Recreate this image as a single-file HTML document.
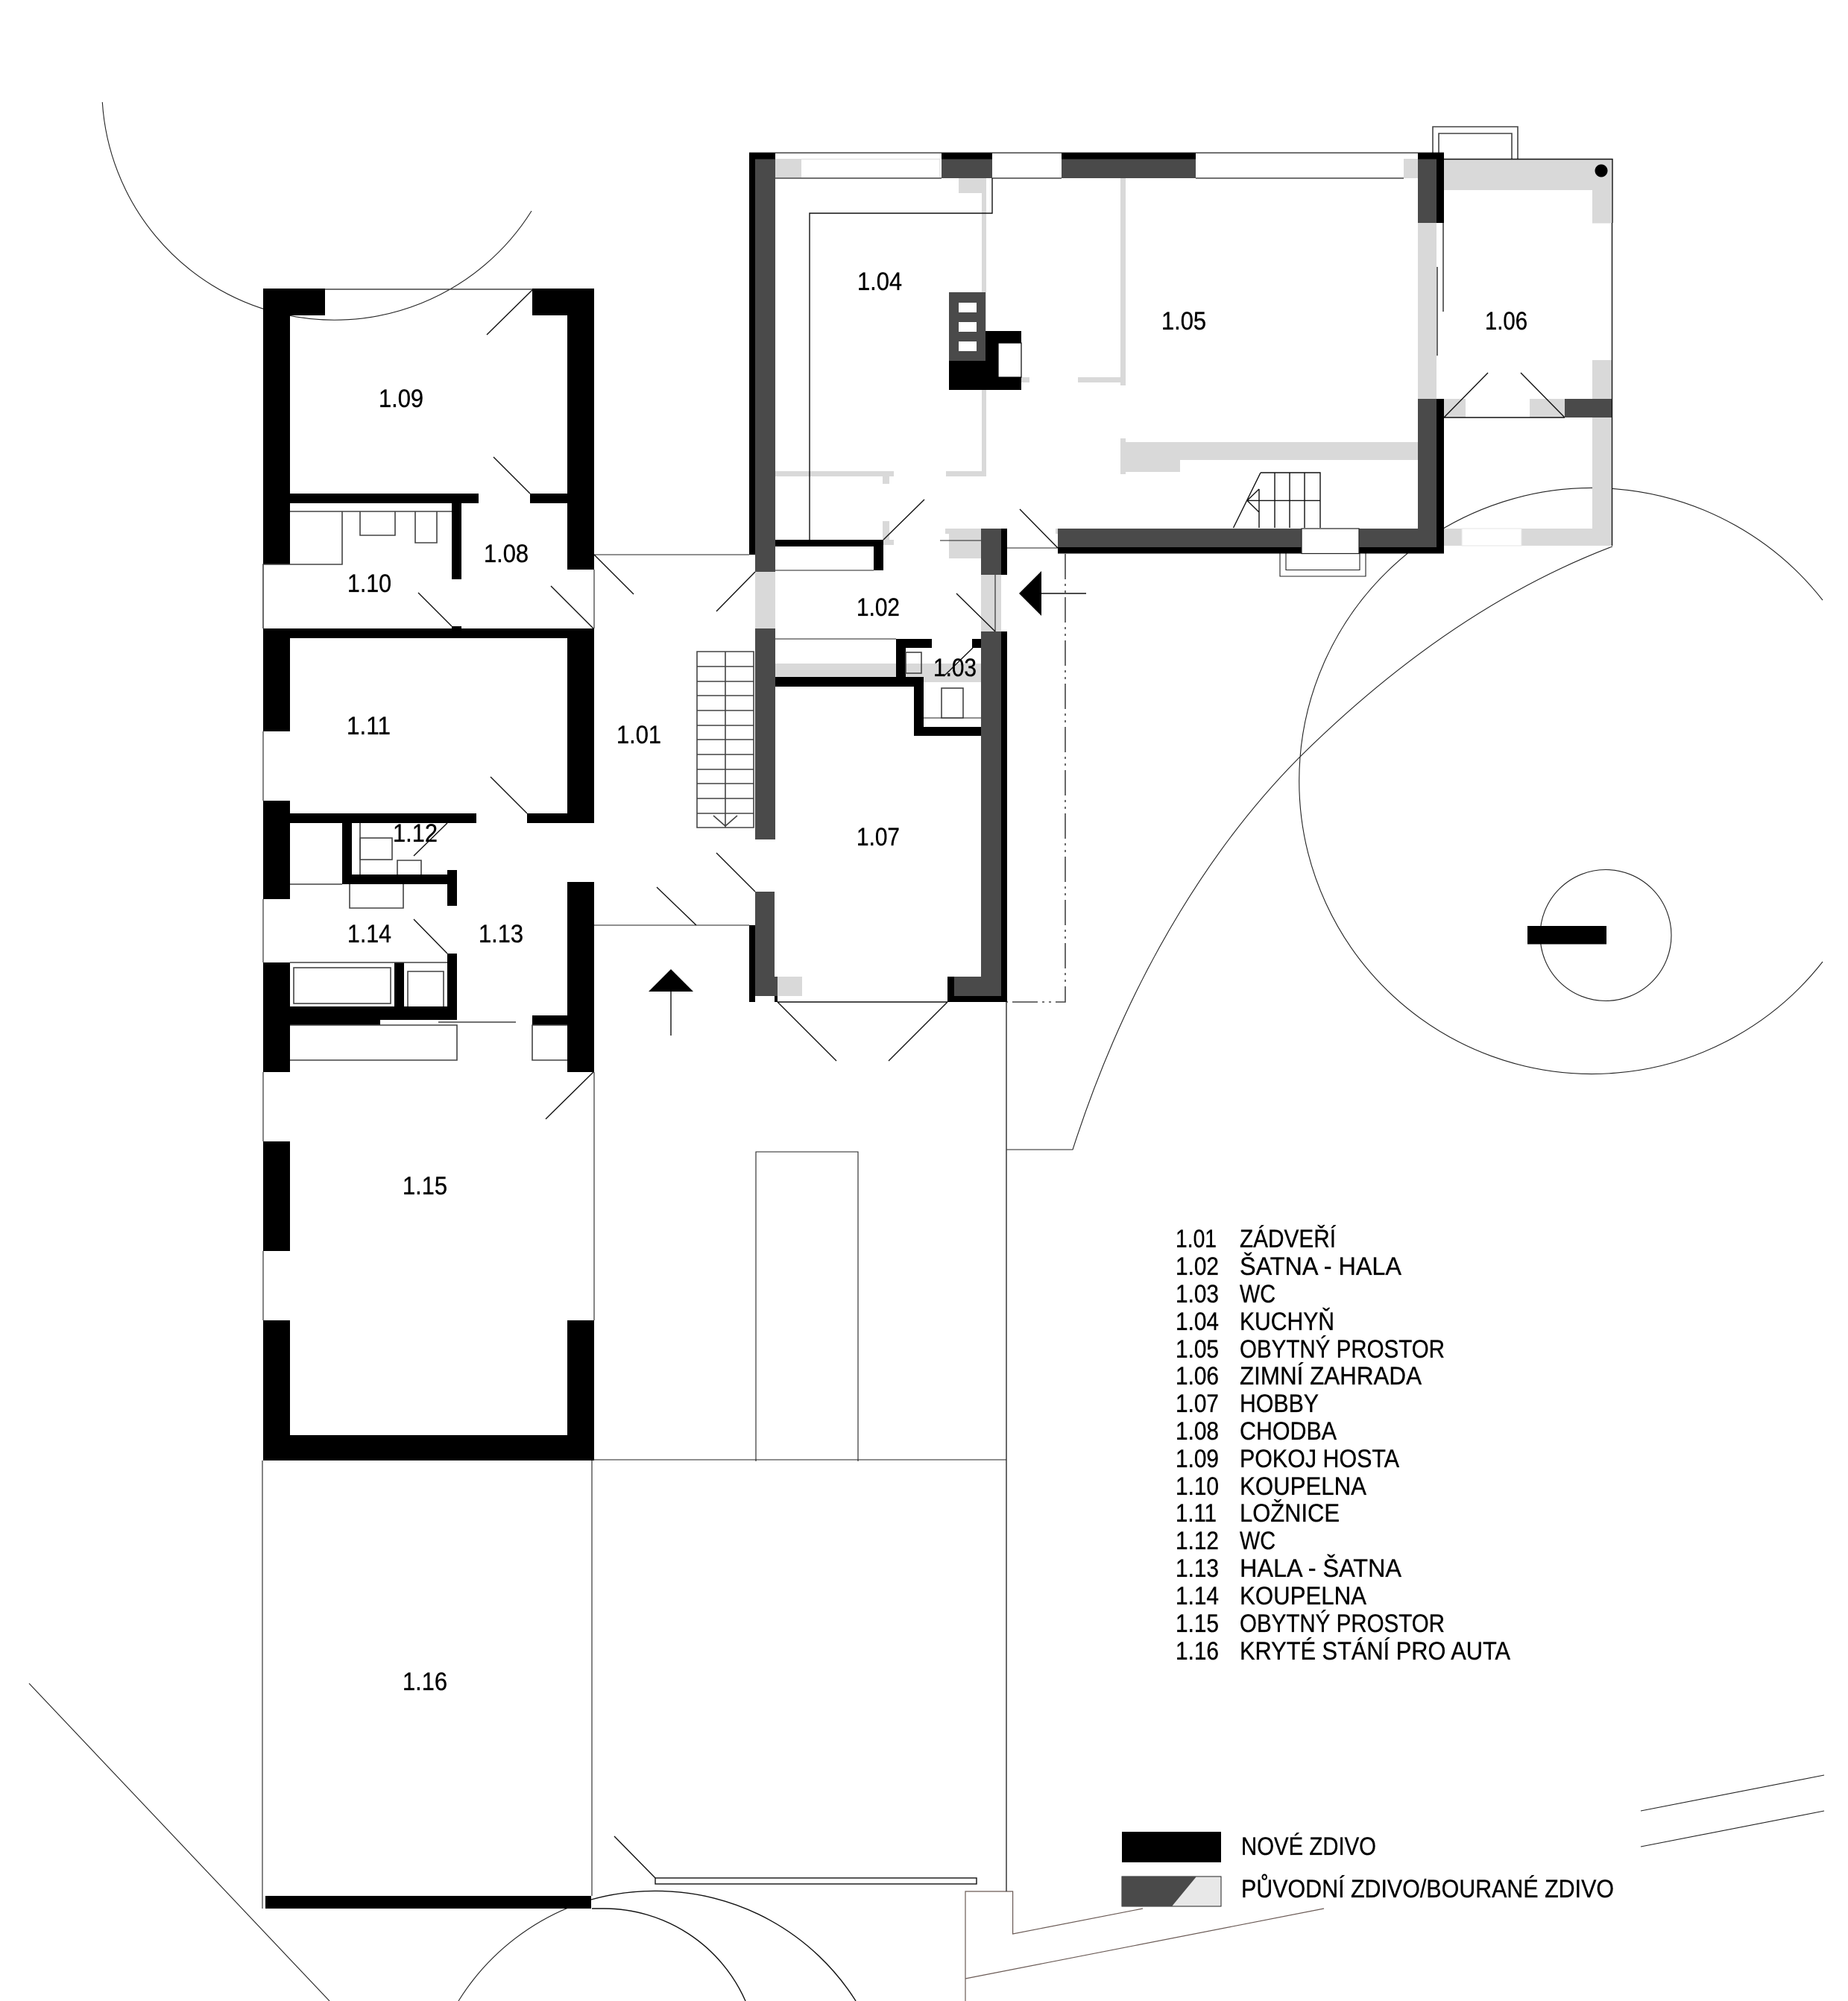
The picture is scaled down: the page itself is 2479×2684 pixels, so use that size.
<!DOCTYPE html>
<html><head><meta charset="utf-8"><title>Půdorys 1.NP</title>
<style>
html,body{margin:0;padding:0;background:#fff}
svg{display:block}
text{font-family:"Liberation Sans","Noto Sans CJK SC",sans-serif;font-size:34px;fill:#000;stroke:#000;stroke-width:.35}
.k{fill:#000}.d{fill:#4a4a4a}.l{fill:#d9d9d9}.w{fill:#fff}
.s{fill:none;stroke:#111;stroke-width:1.4}
.t{fill:none;stroke:#222;stroke-width:1.1}
.g{fill:none;stroke:#444;stroke-width:1.6}
.b{fill:none;stroke:#6a5a55;stroke-width:1.2}
</style></head><body>
<svg xmlns="http://www.w3.org/2000/svg" width="2479" height="2684" viewBox="0 0 2479 2684">
<rect width="2479" height="2684" fill="#fff"/>

<!-- site curves -->
<path class="t" d="M137.3 137A312 312 0 0 0 713 283"/>
<path class="t" d="M2445 805A393 393 0 1 0 2445 1290"/>
<circle class="t" cx="2154" cy="1254.5" r="88"/>
<rect class="k" x="2049" y="1242" width="106" height="24.5"/>
<path class="t" d="M2163 733C2000 795 1860 900 1742 1017C1640 1120 1520 1290 1439 1542H1350"/>
<path class="t" d="M39 2258L442 2684"/>
<path class="t" d="M2201 2429L2447 2381M2201 2477L2447 2429"/>
<path class="s" d="M793 2548A316.6 316.6 0 0 1 880 2536.4A316.6 316.6 0 0 1 1148 2684"/>
<path class="t" d="M793 2548A316.6 316.6 0 0 0 615 2684"/>
<path class="s" d="M794 2560H810A207.6 207.6 0 0 1 1000 2684"/>
<path class="b" d="M1295 2684V2537H1358.6V2594L1533 2560M1295 2654L1776 2560"/>

<!-- long site / building lines -->
<path class="g" d="M1350 1344V2537"/>
<path class="t" d="M797 744H1005M797 1241H1005M794 1959V2543M352 1959V2560M794 1958H1350"/>
<path class="t" d="M1014 1960V1545H1151V1960"/>
<path class="g" stroke-dasharray="34 6 3 6 3 6" d="M1429 743V1344H1351"/>
<rect x="879" y="2519" width="431" height="8" class="s"/>
<path class="s" d="M824 2463L879 2519"/>

<!-- upper house lights -->
<rect class="l" x="1040" y="213" width="35" height="25"/>
<path fill="none" stroke="#e4e4e4" stroke-width="1.5" d="M1075 213.5H1261V238"/>
<rect class="l" x="1883" y="213" width="19" height="26"/>
<rect class="l" x="1286" y="239" width="37" height="20"/>
<rect class="l" x="1317" y="258" width="6" height="381"/>
<rect class="l" x="1269" y="632" width="54" height="7"/>
<rect class="l" x="1040" y="632" width="159" height="7"/>
<rect class="l" x="1184" y="639" width="9" height="10"/>
<rect class="l" x="1184" y="699" width="9" height="32"/>
<rect class="l" x="1184" y="724" width="15" height="7"/>
<rect class="l" x="1503" y="239" width="7" height="278"/>
<rect class="l" x="1446" y="506" width="64" height="7"/>
<rect class="l" x="1370" y="506" width="11" height="7"/>
<rect class="l" x="1503" y="593" width="399" height="24"/>
<rect class="l" x="1503" y="593" width="80" height="40"/>
<rect class="l" x="1503" y="588" width="7" height="48"/>
<rect class="l" x="1268" y="709" width="48" height="7"/>
<rect class="l" x="1273" y="716" width="43" height="33"/>
<rect class="l" x="1416" y="709" width="3" height="7"/>
<rect class="l" x="1013" y="767" width="27" height="76"/>
<rect class="l" x="1316" y="771" width="27" height="76"/>
<rect class="l" x="1902" y="299" width="25" height="236"/>
<rect class="l" x="1937" y="213.5" width="226" height="41.5"/>
<rect class="l" x="2136" y="213.5" width="26" height="86"/>
<rect class="l" x="2136" y="483" width="26" height="52"/>
<rect class="l" x="2136" y="560" width="26" height="172"/>
<rect class="l" x="1937" y="709" width="225" height="23"/>
<rect x="1961" y="709" width="80" height="23" fill="#fff" stroke="#e6e6e6" stroke-width="1"/>
<rect class="l" x="1937" y="535" width="162" height="25"/>
<rect x="1966" y="535" width="86" height="25" class="w"/>
<rect class="l" x="1040" y="890" width="162" height="18"/>
<rect class="l" x="1215" y="890" width="101" height="18"/>
<rect class="l" x="1239" y="908" width="77" height="7"/>
<rect class="l" x="1043" y="1310" width="33" height="26"/>

<!-- upper house black -->
<rect class="k" x="1005" y="204.5" width="35" height="9"/>
<rect class="k" x="1005" y="204.5" width="8" height="539.5"/>
<rect class="k" x="1263" y="204.5" width="68" height="9"/>
<rect class="k" x="1424" y="204.5" width="180" height="9"/>
<rect class="k" x="1902" y="204.5" width="35" height="9"/>
<rect class="k" x="1927" y="204.5" width="10" height="94.5"/>
<rect class="k" x="1927" y="535" width="10" height="207.5"/>
<rect class="k" x="1419" y="734" width="518" height="8.5"/>
<rect class="k" x="1343" y="709" width="8" height="62"/>
<rect class="k" x="1343" y="847" width="8" height="497"/>
<rect class="k" x="1271" y="1336" width="80" height="8"/>
<rect class="k" x="1271" y="1310" width="9" height="34"/>
<rect class="k" x="1005" y="1241" width="8" height="103"/>
<rect class="k" x="1039" y="1336" width="4" height="8"/>
<rect class="k" x="1040" y="724" width="145" height="9"/>
<rect class="k" x="1172" y="724" width="13" height="41"/>
<rect class="k" x="1202" y="857" width="13" height="51"/>
<rect class="k" x="1202" y="857" width="48" height="12"/>
<rect class="k" x="1304" y="857" width="12" height="12"/>
<rect class="k" x="1040" y="908" width="199" height="13"/>
<rect class="k" x="1226" y="908" width="13" height="79"/>
<rect class="k" x="1226" y="975" width="90" height="12"/>

<!-- upper house dark -->
<rect class="d" x="1013" y="213.5" width="27" height="553.5"/>
<rect class="d" x="1013" y="843" width="27" height="283"/>
<rect class="d" x="1013" y="1196" width="26" height="140"/>
<rect class="d" x="1039" y="1310" width="4" height="26"/>
<rect class="d" x="1263" y="213.5" width="68" height="25.5"/>
<rect class="d" x="1424" y="213.5" width="180" height="25.5"/>
<rect class="d" x="1902" y="213.5" width="25" height="85.5"/>
<rect class="d" x="1902" y="535" width="25" height="199"/>
<rect class="d" x="1419" y="709" width="508" height="25"/>
<rect class="d" x="2099" y="535" width="63" height="25"/>
<rect class="d" x="1316" y="709" width="27" height="62"/>
<rect class="d" x="1316" y="847" width="27" height="489"/>
<rect class="d" x="1280" y="1310" width="63" height="26"/>

<!-- chimney -->
<rect class="k" x="1273" y="484" width="49" height="39"/>
<rect class="k" x="1322" y="444" width="48" height="79"/>
<rect x="1339" y="460" width="31" height="46" fill="#fff" stroke="#000" stroke-width="1.2"/>
<rect class="d" x="1273" y="392" width="49" height="92"/>
<rect class="w" x="1286" y="406" width="24" height="13"/>
<rect class="w" x="1286" y="432" width="24" height="13"/>
<rect class="w" x="1286" y="458" width="24" height="13"/>

<!-- upper house thin -->
<path class="g" d="M1040 205H1263M1040 239H1263M1331 205H1424M1331 239H1424M1604 205H1902M1604 239H1883"/>
<path class="s" d="M1331 239V286H1086V724"/>
<path class="t" d="M1040 765H1172M1261 725H1316M1351 735H1419M1335 771V847"/>
<path class="t" d="M1040 857H1202"/>
<rect x="1215" y="875" width="21" height="28" class="g"/>
<rect x="1263" y="923" width="29" height="40" class="g"/>
<path class="t" d="M1239 963H1316"/>
<path class="s" d="M1185 724L1240 670M1419 735L1368 683M1335 847L1283 796M1305 869L1266 907M1013 767L961 820M1013 1196L961 1144"/>
<path class="s" d="M1043 1344H1271M1043 1344L1122 1423M1271 1344L1192 1423"/>
<rect x="1746" y="709" width="77" height="33.5" fill="#fff" stroke="#222" stroke-width="1.2"/>
<path class="t" d="M1717 742.5V773H1832V742.5M1725 742.5V764.5H1824V742.5"/>
<path class="g" d="M1922 204.5V170H2036V213.5M1930 204.5V179H2028V213.5"/>
<path class="s" d="M1937 213.5H2163V299M2162.5 299V732"/>
<path class="g" d="M1928 358V477M1936 299V418"/>
<path class="s" d="M1937 560H2099M1937 560L1996 500M2099 560L2040 500"/>
<ellipse class="k" cx="2148" cy="229" rx="8.5" ry="8.5"/>
<path class="s" d="M1691 634H1771V708M1710 634V708M1730 634V708M1750 634V708M1689 656V708M1673 671.4H1771M1691 634L1654.5 708M1673 671.4L1689 656M1673 671.4L1689 687"/>

<!-- stairs 1.01 -->
<path class="g" d="M935 874H1011V1110H935ZM973 874V1110M935 894H1011M935 914H1011M935 933H1011M935 953H1011M935 973H1011M935 992H1011M935 1012H1011M935 1032H1011M935 1051H1011M935 1071H1011M935 1091H1011M957 1094L973 1108L989 1094"/>

<!-- entrance arrows -->
<path class="k" d="M1367 796L1397 766V826Z"/>
<path class="s" d="M1397 796H1457"/>
<path class="k" d="M900 1300L870 1330H930Z"/>
<path class="s" d="M900 1330V1389"/>
<path class="s" d="M934 1241L881 1190M797 744L850 797"/>

<!-- left wing black -->
<rect class="k" x="353" y="387" width="83" height="36"/>
<rect class="k" x="353" y="387" width="36" height="370"/>
<rect class="k" x="714" y="387" width="83" height="36"/>
<rect class="k" x="761" y="387" width="36" height="377"/>
<rect class="k" x="389" y="662" width="253" height="13"/>
<rect class="k" x="711" y="662" width="50" height="13"/>
<rect class="k" x="606" y="675" width="13" height="102"/>
<rect class="k" x="353" y="843" width="444" height="13"/>
<rect class="k" x="606" y="840" width="13" height="3"/>
<rect class="k" x="353" y="856" width="36" height="125"/>
<rect class="k" x="761" y="856" width="36" height="248"/>
<rect class="k" x="707" y="1091" width="54" height="13"/>
<rect class="k" x="353" y="1074" width="36" height="132"/>
<rect class="k" x="389" y="1091" width="250" height="13"/>
<rect class="k" x="459" y="1104" width="13" height="82"/>
<rect class="k" x="459" y="1173" width="141" height="13"/>
<rect class="k" x="600" y="1167" width="13" height="48"/>
<rect class="k" x="353" y="1291" width="36" height="147"/>
<rect class="k" x="389" y="1350" width="224" height="18"/>
<rect class="k" x="389" y="1368" width="121" height="7"/>
<rect class="k" x="600" y="1279" width="13" height="89"/>
<rect class="k" x="529" y="1291" width="13" height="59"/>
<rect class="k" x="761" y="1183" width="36" height="255"/>
<rect class="k" x="714" y="1362" width="47" height="13"/>
<rect class="k" x="353" y="1531" width="36" height="147"/>
<rect class="k" x="353" y="1771" width="36" height="188"/>
<rect class="k" x="761" y="1771" width="36" height="188"/>
<rect class="k" x="353" y="1925" width="444" height="34"/>
<rect class="k" x="356" y="2543" width="437" height="17"/>

<!-- left wing thin -->
<path class="g" d="M436 388H714"/>
<path class="s" d="M714 389L653 449M711 662L662 613M606 840L561 795M796 843L739 786M707 1091L658 1042M600 1104L555 1148M600 1279L555 1233M796 1438L732 1501"/>
<path class="g" d="M389 686H606M459 686V757H353V843M483 686V718H530V686M557 686V728H586V686"/>
<path class="t" d="M797 764V843M353 981V1074M353 1206V1291M353 1438V1531M353 1678V1771M797 1438V1771"/>
<path class="g" d="M389 1186H459M483 1104V1173"/>
<rect x="483" y="1124" width="43" height="29" class="g"/>
<path class="g" d="M533 1173V1154H565V1173M469 1186V1218H541V1186M389 1291H600"/>
<rect x="394" y="1298" width="130" height="48" class="g"/>
<path class="g" d="M547 1350V1303H595V1350"/>
<path class="g" d="M588 1371H692M389 1375H613V1422H389M761 1375H714V1422H761"/>
<rect x="510" y="1369" width="78" height="2" class="w"/>

<!-- room labels -->
<text x="827" y="997" textLength="60" lengthAdjust="spacingAndGlyphs">1.01</text>
<text x="1149" y="826" textLength="58" lengthAdjust="spacingAndGlyphs">1.02</text>
<text x="1252" y="907" textLength="58" lengthAdjust="spacingAndGlyphs">1.03</text>
<text x="1150" y="389" textLength="60" lengthAdjust="spacingAndGlyphs">1.04</text>
<text x="1558" y="442" textLength="60" lengthAdjust="spacingAndGlyphs">1.05</text>
<text x="1992" y="442" textLength="57" lengthAdjust="spacingAndGlyphs">1.06</text>
<text x="1149" y="1134" textLength="58" lengthAdjust="spacingAndGlyphs">1.07</text>
<text x="649" y="754" textLength="60" lengthAdjust="spacingAndGlyphs">1.08</text>
<text x="508" y="546" textLength="60" lengthAdjust="spacingAndGlyphs">1.09</text>
<text x="466" y="794" textLength="59" lengthAdjust="spacingAndGlyphs">1.10</text>
<text x="465" y="985" textLength="59" lengthAdjust="spacingAndGlyphs">1.11</text>
<text x="527" y="1129" textLength="60" lengthAdjust="spacingAndGlyphs">1.12</text>
<text x="642" y="1264" textLength="60" lengthAdjust="spacingAndGlyphs">1.13</text>
<text x="466" y="1264" textLength="59" lengthAdjust="spacingAndGlyphs">1.14</text>
<text x="540" y="1602" textLength="60" lengthAdjust="spacingAndGlyphs">1.15</text>
<text x="540" y="2267" textLength="60" lengthAdjust="spacingAndGlyphs">1.16</text>

<!-- legend list -->
<text x="1577" y="1673" textLength="55" lengthAdjust="spacingAndGlyphs">1.01</text><text x="1663" y="1673" textLength="129" lengthAdjust="spacingAndGlyphs">ZÁDVEŘÍ</text>
<text x="1577" y="1710" textLength="58" lengthAdjust="spacingAndGlyphs">1.02</text><text x="1663" y="1710" textLength="217" lengthAdjust="spacingAndGlyphs">ŠATNA - HALA</text>
<text x="1577" y="1747" textLength="58" lengthAdjust="spacingAndGlyphs">1.03</text><text x="1663" y="1747" textLength="48" lengthAdjust="spacingAndGlyphs">WC</text>
<text x="1577" y="1784" textLength="58" lengthAdjust="spacingAndGlyphs">1.04</text><text x="1663" y="1784" textLength="127" lengthAdjust="spacingAndGlyphs">KUCHYŇ</text>
<text x="1577" y="1821" textLength="58" lengthAdjust="spacingAndGlyphs">1.05</text><text x="1663" y="1821" textLength="275" lengthAdjust="spacingAndGlyphs">OBYTNÝ PROSTOR</text>
<text x="1577" y="1857" textLength="58" lengthAdjust="spacingAndGlyphs">1.06</text><text x="1663" y="1857" textLength="244" lengthAdjust="spacingAndGlyphs">ZIMNÍ ZAHRADA</text>
<text x="1577" y="1894" textLength="58" lengthAdjust="spacingAndGlyphs">1.07</text><text x="1663" y="1894" textLength="106" lengthAdjust="spacingAndGlyphs">HOBBY</text>
<text x="1577" y="1931" textLength="58" lengthAdjust="spacingAndGlyphs">1.08</text><text x="1663" y="1931" textLength="130" lengthAdjust="spacingAndGlyphs">CHODBA</text>
<text x="1577" y="1968" textLength="58" lengthAdjust="spacingAndGlyphs">1.09</text><text x="1663" y="1968" textLength="214" lengthAdjust="spacingAndGlyphs">POKOJ HOSTA</text>
<text x="1577" y="2005" textLength="58" lengthAdjust="spacingAndGlyphs">1.10</text><text x="1663" y="2005" textLength="170" lengthAdjust="spacingAndGlyphs">KOUPELNA</text>
<text x="1577" y="2041" textLength="55" lengthAdjust="spacingAndGlyphs">1.11</text><text x="1663" y="2041" textLength="134" lengthAdjust="spacingAndGlyphs">LOŽNICE</text>
<text x="1577" y="2078" textLength="58" lengthAdjust="spacingAndGlyphs">1.12</text><text x="1663" y="2078" textLength="48" lengthAdjust="spacingAndGlyphs">WC</text>
<text x="1577" y="2115" textLength="58" lengthAdjust="spacingAndGlyphs">1.13</text><text x="1663" y="2115" textLength="217" lengthAdjust="spacingAndGlyphs">HALA - ŠATNA</text>
<text x="1577" y="2152" textLength="58" lengthAdjust="spacingAndGlyphs">1.14</text><text x="1663" y="2152" textLength="170" lengthAdjust="spacingAndGlyphs">KOUPELNA</text>
<text x="1577" y="2189" textLength="58" lengthAdjust="spacingAndGlyphs">1.15</text><text x="1663" y="2189" textLength="275" lengthAdjust="spacingAndGlyphs">OBYTNÝ PROSTOR</text>
<text x="1577" y="2226" textLength="58" lengthAdjust="spacingAndGlyphs">1.16</text><text x="1663" y="2226" textLength="363" lengthAdjust="spacingAndGlyphs">KRYTÉ STÁNÍ PRO AUTA</text>

<!-- material legend -->
<rect class="k" x="1505" y="2457" width="133" height="41"/>
<rect x="1505" y="2517" width="133" height="40" fill="#e8e8e8" stroke="#222" stroke-width="1"/>
<path class="d" d="M1505 2517H1605L1572 2557H1505Z"/>
<text x="1665" y="2488" textLength="181" lengthAdjust="spacingAndGlyphs">NOVÉ ZDIVO</text>
<text x="1665" y="2545" textLength="500" lengthAdjust="spacingAndGlyphs">PŮVODNÍ ZDIVO/BOURANÉ ZDIVO</text>
</svg>
</body></html>
